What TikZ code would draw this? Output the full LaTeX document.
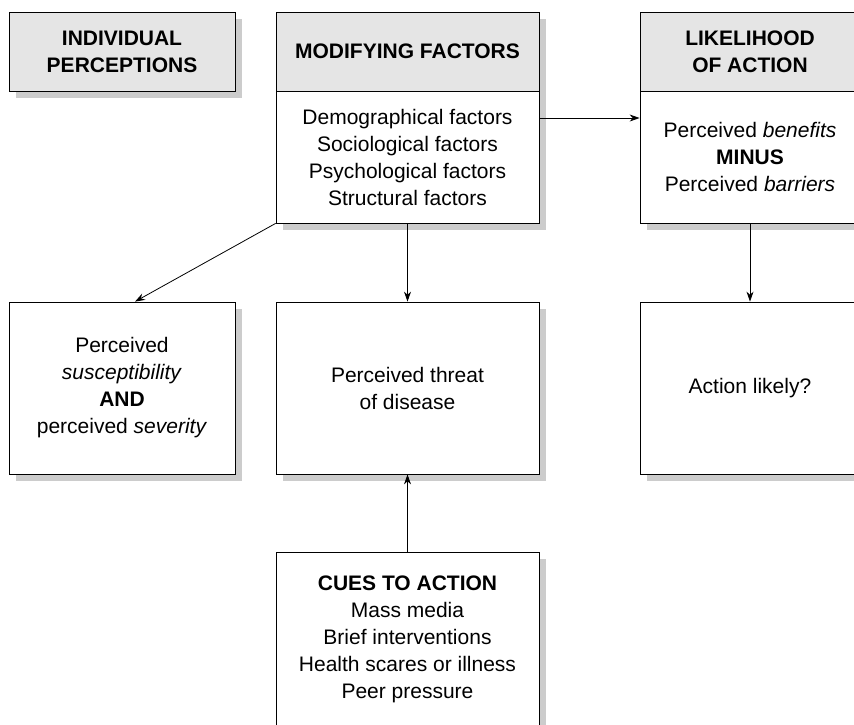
\documentclass[tikz,border=0pt]{standalone}
\usepackage{fontspec}
\setmainfont{Liberation Sans}
\usetikzlibrary{shadows,arrows.meta}
\begin{document}
\begin{tikzpicture}[>={Stealth[length=10pt,width=7pt]},x=1pt,y=-1pt,
  box/.style={draw,line width=0.8pt,fill=white,align=center,inner sep=0pt,
    font=\fontsize{21}{27}\selectfont,
    drop shadow={shadow xshift=7pt,shadow yshift=-7pt,fill=black!20,opacity=1}},
  head/.style={box,fill=gray!20,font=\fontsize{21}{27}\selectfont\bfseries}]
\useasboundingbox (0,0) rectangle (854,724);
% top row
\node[head,minimum width=226pt,minimum height=79pt] (A1) at (122,51.5){INDIVIDUAL\\PERCEPTIONS};
\node[head,minimum width=263pt,minimum height=79pt] (A2) at (407.5,51.5){MODIFYING FACTORS};
\node[box,minimum width=263pt,minimum height=132pt] (A3) at (407.5,157){Demographical factors\\Sociological factors\\Psychological factors\\Structural factors};
\node[head,minimum width=220pt,minimum height=79pt] (A4) at (750,51.5){LIKELIHOOD\\OF ACTION};
\node[box,minimum width=220pt,minimum height=132pt] (A5) at (750,157){Perceived \textit{benefits}\\\textbf{MINUS}\\Perceived \textit{barriers}};

% middle row
\node[box,minimum width=226pt,minimum height=172pt] (B1) at (122,388){Perceived\\\textit{susceptibility}\\\textbf{AND}\\perceived \textit{severity}};
\node[box,minimum width=263pt,minimum height=172pt] (B2) at (407.5,388){Perceived threat\\of disease};
\node[box,minimum width=220pt,minimum height=172pt] (B3) at (750,388){Action likely?};

% bottom
\node[box,minimum width=263pt,minimum height=174pt] (C1) at (407.5,639){\textbf{CUES TO ACTION}\\Mass media\\Brief interventions\\Health scares or illness\\Peer pressure};

\draw[->,line width=0.8pt]([yshift=39pt]A3.east)--([yshift=39pt]A5.west);
\draw[->,line width=0.8pt](A3.south west)--([xshift=13pt]B1.north);
\draw[->,line width=0.8pt](A3.south)--(B2.north);
\draw[->,line width=0.8pt](A5.south)--(B3.north);
\draw[->,line width=0.8pt](C1.north)--(B2.south);
\end{tikzpicture}
\end{document}
